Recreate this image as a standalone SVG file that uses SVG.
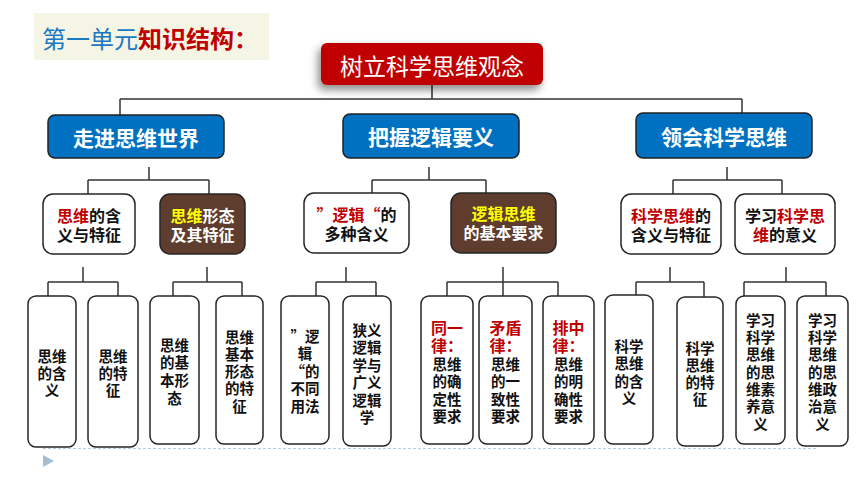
<svg xmlns="http://www.w3.org/2000/svg" width="860" height="484" viewBox="0 0 860 484">
<defs>
<filter id="sh" x="-20%" y="-30%" width="140%" height="180%">
<feDropShadow dx="-3" dy="5" stdDeviation="4" flood-color="#000" flood-opacity="0.45"/>
</filter>
<style>
text{font-family:"Noto Sans CJK SC","Noto Sans",sans-serif;dominant-baseline:central;text-anchor:middle}
tspan{dominant-baseline:central}
.con{fill:none;stroke:#333;stroke-width:1.5}
.l2{fill:#0070c0;stroke:#222;stroke-width:1.5}
.l2t{fill:#fff;font-size:21px;font-weight:bold}
.w{fill:#fff;stroke:#262626;stroke-width:1.5}
.br{fill:#5e3c2e;stroke:#262626;stroke-width:1.5}
.t3{font-size:16px;font-weight:bold;fill:#111}
.t4{font-size:14.5px;font-weight:bold;fill:#111}
.r4{font-size:16px;fill:#c00000}
.red{fill:#c00000}
.yel{fill:#ffff00}
.wh{fill:#fff}
</style>
</defs>
<rect width="860" height="484" fill="#fff"/>

<g id="title">
<rect x="34" y="13" width="235" height="47" fill="#f5f5e5"/>
<text x="42" y="37" style="text-anchor:start;font-size:24px"><tspan fill="#1b78c2">第一单元</tspan><tspan fill="#c00000" font-weight="bold">知识结构：</tspan></text>
</g>

<g id="connectors">
<path class="con" d="M432 85V99M120 99H742M120 99V115M742 99V114"/>
<path class="con" d="M149 167V180M88 180H209M88 180V194M209 180V194"/>
<path class="con" d="M429 167V180M372 180H486M372 180V193M486 180V193"/>
<path class="con" d="M727 167V180M673 180H782M673 180V194M782 180V194"/>
<path class="con" d="M83 267V282M48 282H118M48 282V296M118 282V296"/>
<path class="con" d="M207 267V282M173 282H242M173 282V296M242 282V296"/>
<path class="con" d="M346 267V282M316 282H376M316 282V296M376 282V296"/>
<path class="con" d="M503 267V296M447 282H558M447 282V296M558 282V296"/>
<path class="con" d="M670 267V282M636 282H704M636 282V295M704 282V297"/>
<path class="con" d="M786 267V282M744 282H826M744 282V296M826 282V296"/>
</g>

<g id="root">
<rect x="321" y="43" width="222" height="42" rx="6" fill="#c00000" filter="url(#sh)"/>
<text x="432" y="65" fill="#fff" font-size="23">树立科学思维观念</text>
</g>

<g id="n-zoujin"><rect class="l2" x="48" y="115" width="176" height="43" rx="7"/><text class="l2t" x="136" y="136.5">走进思维世界</text></g>
<g id="n-bawo"><rect class="l2" x="343" y="114" width="176" height="44" rx="7"/><text class="l2t" x="431" y="136">把握逻辑要义</text></g>
<g id="n-linghui"><rect class="l2" x="636" y="113" width="176" height="45" rx="7"/><text class="l2t" x="724" y="135.5">领会科学思维</text></g>

<g id="n3a"><rect class="w" x="43" y="194" width="92" height="60" rx="10"/>
<text class="t3"><tspan x="89" y="215"><tspan class="red">思维</tspan>的含</tspan><tspan x="89" y="234">义与特征</tspan></text></g>
<g id="n3b"><rect class="br" x="160" y="194" width="85" height="60" rx="10"/>
<text class="t3"><tspan x="202.5" y="215"><tspan class="yel">思维</tspan><tspan class="wh">形态</tspan></tspan><tspan class="wh" x="202.5" y="234">及其特征</tspan></text></g>
<g id="n3c"><rect class="w" x="304" y="193" width="105" height="60" rx="10"/>
<text class="t3"><tspan x="356.5" y="214"><tspan class="red">”逻辑“</tspan>的</tspan><tspan x="356.5" y="233">多种含义</tspan></text></g>
<g id="n3d"><rect class="br" x="451" y="193" width="105" height="60" rx="10"/>
<text class="t3"><tspan class="yel" x="503.5" y="213">逻辑思维</tspan><tspan class="wh" x="503.5" y="232">的基本要求</tspan></text></g>
<g id="n3e"><rect class="w" x="621" y="194" width="100" height="60" rx="10"/>
<text class="t3"><tspan x="671" y="215"><tspan class="red">科学思维</tspan>的</tspan><tspan x="671" y="234">含义与特征</tspan></text></g>
<g id="n3f"><rect class="w" x="735" y="194" width="100" height="60" rx="10"/>
<text class="t3"><tspan x="785" y="215">学习<tspan class="red">科学思</tspan></tspan><tspan x="785" y="234"><tspan class="red">维</tspan>的意义</tspan></text></g>

<g id="b1"><rect class="w" x="28" y="296" width="48" height="151" rx="8"/>
<text class="t4"><tspan x="52" y="355">思维</tspan><tspan x="52" y="372">的含</tspan><tspan x="52" y="389">义</tspan></text></g>
<g id="b2"><rect class="w" x="88" y="296" width="50" height="151" rx="8"/>
<text class="t4"><tspan x="113" y="355">思维</tspan><tspan x="113" y="372">的特</tspan><tspan x="113" y="389">征</tspan></text></g>
<g id="b3"><rect class="w" x="150" y="296" width="49" height="148" rx="8"/>
<text class="t4"><tspan x="174.5" y="344">思维</tspan><tspan x="174.5" y="361">的基</tspan><tspan x="174.5" y="379">本形</tspan><tspan x="174.5" y="397">态</tspan></text></g>
<g id="b4"><rect class="w" x="216" y="296" width="47" height="148" rx="8"/>
<text class="t4"><tspan x="239.5" y="336">思维</tspan><tspan x="239.5" y="353">基本</tspan><tspan x="239.5" y="370">形态</tspan><tspan x="239.5" y="387">的特</tspan><tspan x="239.5" y="405">征</tspan></text></g>
<g id="b5"><rect class="w" x="281" y="296" width="48" height="148" rx="8"/>
<text class="t4"><tspan x="305" y="335">”逻</tspan><tspan x="305" y="352">辑</tspan><tspan x="305" y="370">“的</tspan><tspan x="305" y="387">不同</tspan><tspan x="305" y="405">用法</tspan></text></g>
<g id="b6"><rect class="w" x="343" y="296" width="48" height="150" rx="8"/>
<text class="t4"><tspan x="367" y="329">狭义</tspan><tspan x="367" y="346">逻辑</tspan><tspan x="367" y="364">学与</tspan><tspan x="367" y="381">广义</tspan><tspan x="367" y="399">逻辑</tspan><tspan x="367" y="416">学</tspan></text></g>
<g id="b7"><rect class="w" x="421" y="296" width="52" height="148" rx="8"/>
<text class="t4"><tspan class="r4" x="447" y="327">同一</tspan><tspan class="r4" x="447" y="345">律：</tspan><tspan x="447" y="363">思维</tspan><tspan x="447" y="380">的确</tspan><tspan x="447" y="398">定性</tspan><tspan x="447" y="415">要求</tspan></text></g>
<g id="b8"><rect class="w" x="479" y="296" width="53" height="148" rx="8"/>
<text class="t4"><tspan class="r4" x="505.5" y="327">矛盾</tspan><tspan class="r4" x="505.5" y="345">律：</tspan><tspan x="505.5" y="363">思维</tspan><tspan x="505.5" y="380">的一</tspan><tspan x="505.5" y="398">致性</tspan><tspan x="505.5" y="415">要求</tspan></text></g>
<g id="b9"><rect class="w" x="543" y="296" width="51" height="148" rx="8"/>
<text class="t4"><tspan class="r4" x="568.5" y="327">排中</tspan><tspan class="r4" x="568.5" y="345">律：</tspan><tspan x="568.5" y="363">思维</tspan><tspan x="568.5" y="380">的明</tspan><tspan x="568.5" y="398">确性</tspan><tspan x="568.5" y="415">要求</tspan></text></g>
<g id="b10"><rect class="w" x="605" y="295" width="48" height="149" rx="8"/>
<text class="t4"><tspan x="629" y="345">科学</tspan><tspan x="629" y="362">思维</tspan><tspan x="629" y="380">的含</tspan><tspan x="629" y="397">义</tspan></text></g>
<g id="b11"><rect class="w" x="677" y="297" width="46" height="149" rx="8"/>
<text class="t4"><tspan x="700" y="347">科学</tspan><tspan x="700" y="364">思维</tspan><tspan x="700" y="381">的特</tspan><tspan x="700" y="398">征</tspan></text></g>
<g id="b12"><rect class="w" x="736" y="296" width="49" height="148" rx="8"/>
<text class="t4"><tspan x="760.5" y="319">学习</tspan><tspan x="760.5" y="336">科学</tspan><tspan x="760.5" y="353">思维</tspan><tspan x="760.5" y="371">的思</tspan><tspan x="760.5" y="388">维素</tspan><tspan x="760.5" y="405">养意</tspan><tspan x="760.5" y="423">义</tspan></text></g>
<g id="b13"><rect class="w" x="797" y="296" width="51" height="150" rx="8"/>
<text class="t4"><tspan x="822.5" y="319">学习</tspan><tspan x="822.5" y="336">科学</tspan><tspan x="822.5" y="353">思维</tspan><tspan x="822.5" y="371">的思</tspan><tspan x="822.5" y="388">维政</tspan><tspan x="822.5" y="405">治意</tspan><tspan x="822.5" y="423">义</tspan></text></g>

<g id="footer">
<line x1="43" y1="448.5" x2="817" y2="448.5" stroke="#b3cde0" stroke-width="1" stroke-dasharray="3 2"/>
<polygon points="43,455 43,467 54,461" fill="#a7bed0"/>
</g>
</svg>
